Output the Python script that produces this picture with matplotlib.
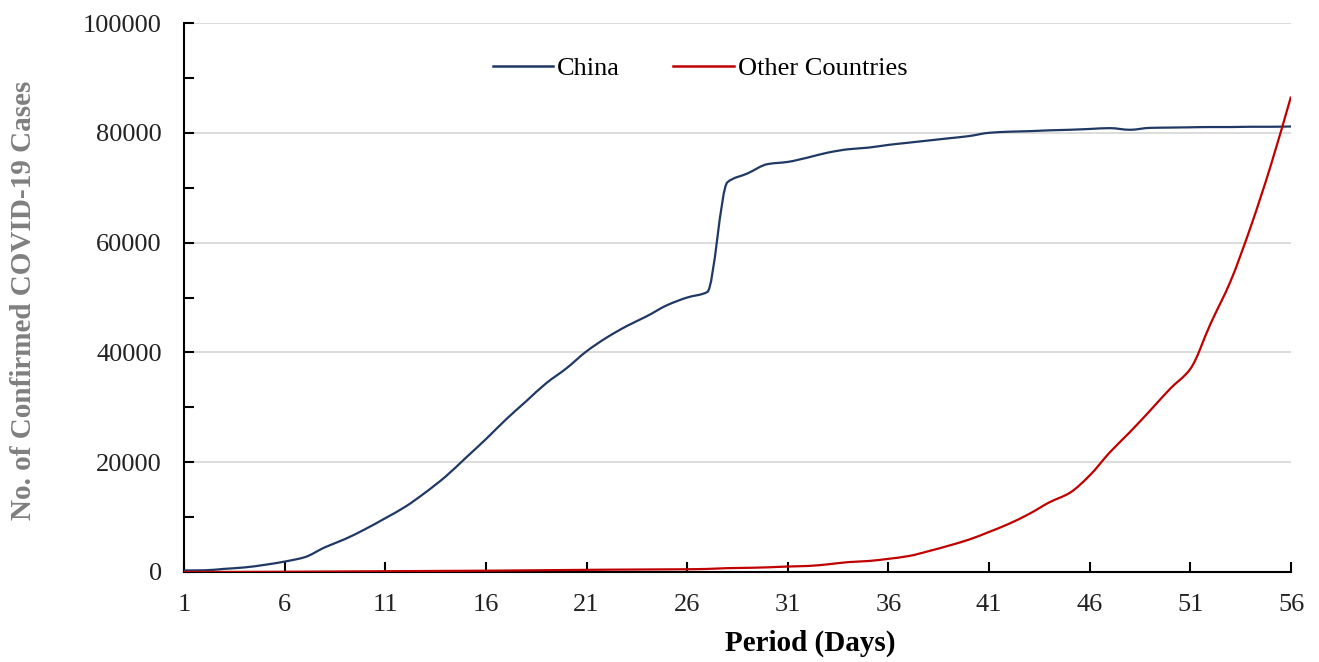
import numpy as np
import matplotlib
matplotlib.use('Agg')
import matplotlib.pyplot as plt
from matplotlib.path import Path
from matplotlib.patches import PathPatch
from matplotlib.lines import Line2D

plt.rcParams['font.family'] = ['Liberation Serif', 'DejaVu Serif']

days = np.arange(1, 57)

china = [280, 310, 570, 830, 1300, 1900, 2700, 4500, 6000, 7800,
         9800, 11900, 14500, 17400, 20800, 24200, 27800, 31100, 34400, 37100,
         40200, 42700, 44800, 46600, 48600, 50000, 51000, 71000, 72600, 74300,
         74700, 75500, 76400, 77000, 77300, 77800, 78200, 78600, 79000, 79400,
         80000, 80200, 80300, 80450, 80550, 80700, 80850, 80550, 80900, 80950,
         81000, 81050, 81050, 81100, 81100, 81150]

others = [5, 7, 10, 20, 30, 45, 60, 80, 100, 120,
          140, 160, 180, 200, 220, 240, 270, 300, 330, 360,
          390, 420, 440, 460, 480, 500, 560, 700, 760, 850,
          1000, 1100, 1400, 1800, 2000, 2400, 2900, 3800, 4800, 5900,
          7300, 8800, 10600, 12700, 14400, 17600, 21800, 25500, 29400, 33400,
          37000, 45200, 53000, 62900, 74100, 86600]

names = ['China', 'Other Countries']
colors = ['#203864', '#c00000']


def smooth_path(x, y):
    # smoothed line like excel, bezier segments with monotone tangents
    x = np.asarray(x, float)
    y = np.asarray(y, float)
    n = len(x)
    h = np.diff(x)
    d = np.diff(y) / h
    m = np.zeros(n)
    m[0], m[-1] = d[0], d[-1]
    for i in range(1, n - 1):
        if d[i - 1] * d[i] > 0:
            m[i] = 2 * d[i - 1] * d[i] / (d[i - 1] + d[i])
    verts = [(x[0], y[0])]
    codes = [Path.MOVETO]
    for i in range(n - 1):
        verts += [(x[i] + h[i] / 3, y[i] + m[i] * h[i] / 3),
                  (x[i + 1] - h[i] / 3, y[i + 1] - m[i + 1] * h[i] / 3),
                  (x[i + 1], y[i + 1])]
        codes += [Path.CURVE4] * 3
    return Path(verts, codes)


fig = plt.figure(figsize=(13.19, 6.62), dpi=100)
ax = fig.add_axes([184 / 1319, 1 - 572 / 662, 1107 / 1319, 549 / 662])

for vals, c in zip([china, others], colors):
    ax.add_patch(PathPatch(smooth_path(days, vals), fill=False,
                           edgecolor=c, lw=1.6, zorder=3))

ax.set_xlim(1, 56)
ax.set_ylim(0, 100000)
ax.set_xticks(np.arange(1, 57, 5))
ax.set_yticks(np.arange(0, 100001, 20000))
ax.set_yticks(np.arange(0, 100001, 10000), minor=True)
ax.grid(axis='y', color='#d9d9d9', lw=1.3, zorder=0)
ax.set_axisbelow(True)

for s in ['top', 'right']:
    ax.spines[s].set_visible(False)
for s in ['left', 'bottom']:
    ax.spines[s].set_linewidth(1.5)

ax.tick_params(axis='both', which='both', direction='in', length=7, width=1.5,
               labelsize=19, colors='black', labelcolor='#222222')
ax.tick_params(axis='y', which='major', pad=16)
ax.tick_params(axis='x', which='major', pad=16)

ax.set_xlabel('Period (Days)', fontsize=21, fontweight='bold')
ax.xaxis.set_label_coords(0.5655, -0.105)
ax.set_ylabel('No. of Confirmed COVID-19 Cases', fontsize=21, fontweight='bold',
              color='#7f7f7f')
ax.yaxis.set_label_coords(-0.133, 0.494)

handles = [Line2D([], [], color=c, lw=1.8) for c in colors]
ax.legend(handles, names, loc='center', bbox_to_anchor=(0.466, 0.917), ncol=2,
          frameon=False, fontsize=19, handlelength=2.3, columnspacing=2.0,
          handletextpad=0.15)

fig.savefig('out.png', dpi=100)
